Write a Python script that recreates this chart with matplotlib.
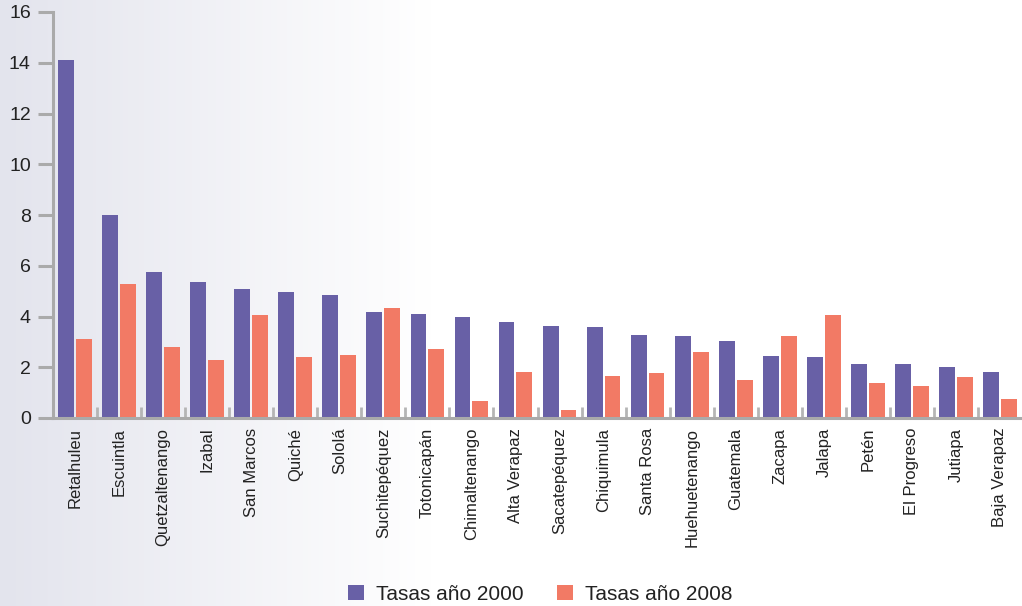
import numpy as np
import matplotlib.pyplot as plt

plt.rcParams['font.family'] = ['Liberation Sans', 'DejaVu Sans']

departamentos = ['Retalhuleu', 'Escuintla', 'Quetzaltenango', 'Izabal', 'San Marcos',
                 'Quiché', 'Sololá', 'Suchitepéquez', 'Totonicapán', 'Chimaltenango',
                 'Alta Verapaz', 'Sacatepéquez', 'Chiquimula', 'Santa Rosa',
                 'Huehuetenango', 'Guatemala', 'Zacapa', 'Jalapa', 'Petén',
                 'El Progreso', 'Jutiapa', 'Baja Verapaz']
tasas_2000 = [14.1, 8.0, 5.75, 5.35, 5.1, 4.95, 4.85, 4.17, 4.1, 3.98, 3.78, 3.62,
              3.58, 3.27, 3.23, 3.03, 2.44, 2.4, 2.13, 2.13, 2.0, 1.81]
tasas_2008 = [3.1, 5.3, 2.8, 2.3, 4.05, 2.4, 2.48, 4.33, 2.72, 0.67, 1.81, 0.31,
              1.65, 1.77, 2.6, 1.5, 3.23, 4.05, 1.38, 1.26, 1.61, 0.75]

c2000 = '#6860a6'
c2008 = '#f27a65'

fig = plt.figure(figsize=(10.22, 6.06), dpi=100)

# soft horizontal gradient behind everything
bg = fig.add_axes([0, 0, 1, 1], zorder=-10)
w = 1022
xs = np.arange(w)
t = np.clip(xs / 430.0, 0, 1)
left = np.array([227, 228, 237]) / 255.0
row = left[None, :] * (1 - t[:, None]) + np.ones(3)[None, :] * t[:, None]
bg.imshow(row[None, :, :], aspect='auto', extent=[0, 1, 0, 1])
bg.axis('off')

ax = fig.add_axes([53 / 1022, 188 / 606, 969 / 1022, 406 / 606])
ax.patch.set_alpha(0)

x = np.arange(len(departamentos))
bw = 0.36
gap = 0.045
ax.bar(x - bw / 2 - gap / 2, tasas_2000, bw, color=c2000, label='Tasas año 2000')
ax.bar(x + bw / 2 + gap / 2, tasas_2008, bw, color=c2008, label='Tasas año 2008')

ax.set_xlim(-0.5, len(departamentos) - 0.5)
ax.set_ylim(0, 16)
ax.set_yticks(range(0, 17, 2))

for s in ['top', 'right']:
    ax.spines[s].set_visible(False)
for s in ['left', 'bottom']:
    ax.spines[s].set_color('#aaaaaa')
    ax.spines[s].set_linewidth(2.2)

ax.tick_params(axis='y', length=11, width=2.2, color='#aaaaaa', pad=5,
               labelsize=14, labelcolor='#222222')

# group labels sit under each pair, separator ticks between pairs
ax.set_xticks(x)
ax.set_xticklabels(departamentos, rotation=90, fontsize=12, color='#222222')
ax.tick_params(axis='x', which='major', length=0, pad=7)
ax.set_xticks(np.arange(0.5, len(departamentos) - 1, 1), minor=True)
ax.tick_params(axis='x', which='minor', direction='in', length=8, width=2,
               color='#b5b5b5')

fig.legend(loc='lower center', bbox_to_anchor=(0.529, -0.027), ncol=2,
           frameon=False, fontsize=15, handlelength=0.75, handleheight=0.75,
           handletextpad=0.6, columnspacing=1.6, labelcolor='#222222')

fig.savefig('out.png', dpi=100)
